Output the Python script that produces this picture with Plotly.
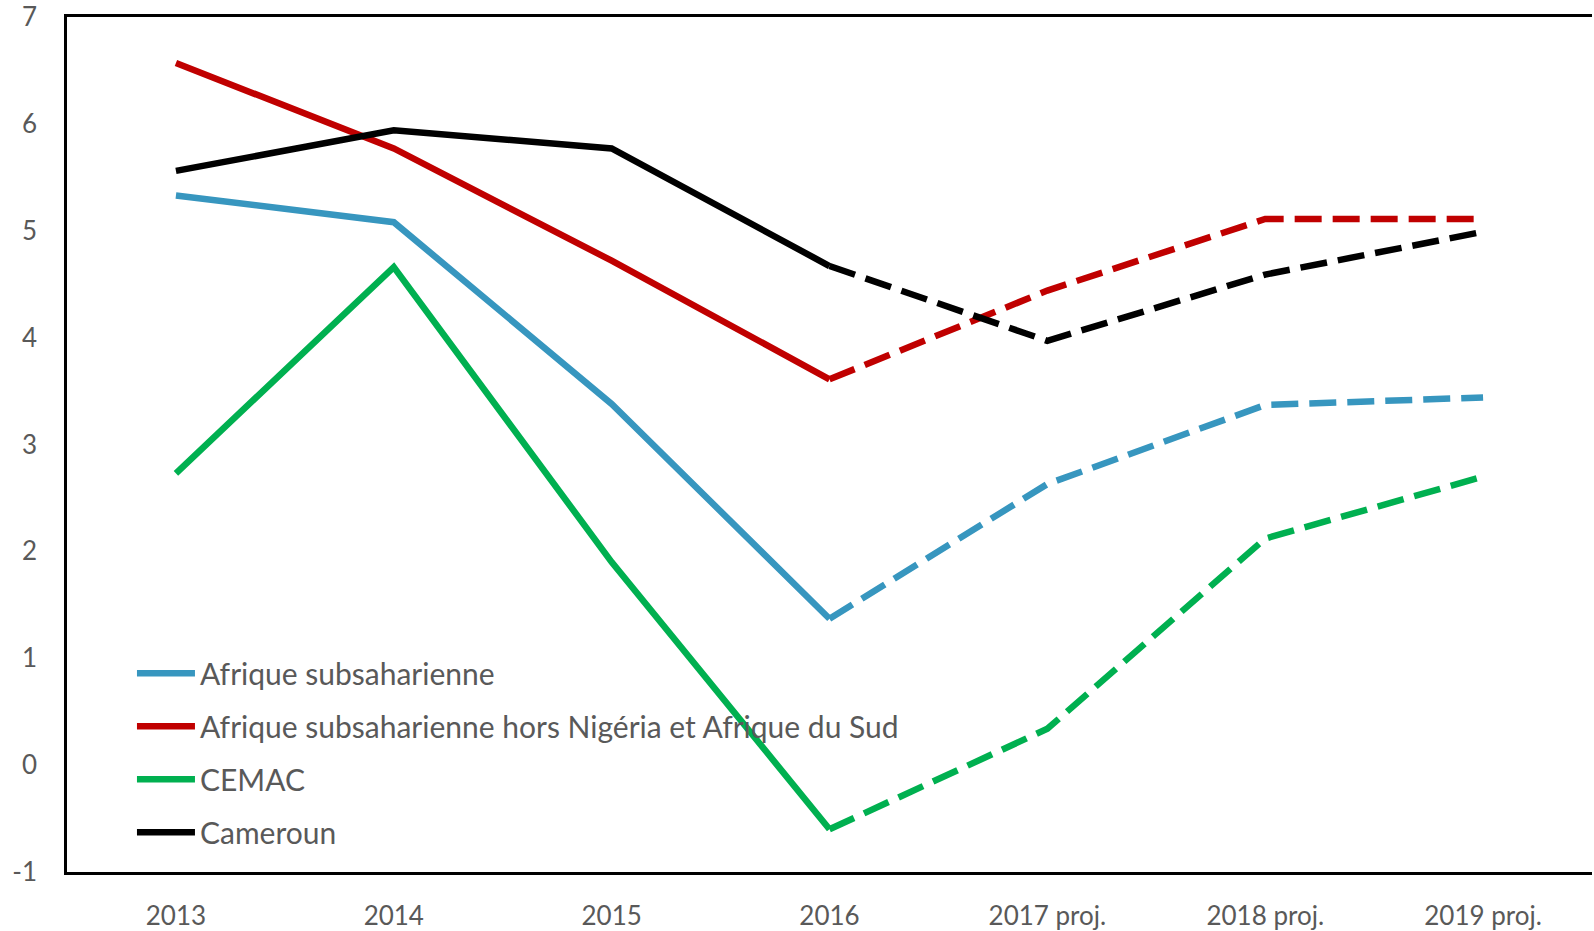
import plotly.graph_objects as go

years = ["2013", "2014", "2015", "2016", "2017 proj.", "2018 proj.", "2019 proj."]

afrique_ss = [5.33, 5.08, 3.38, 1.37, 2.63, 3.37, 3.44]
afrique_ss_hors = [6.57, 5.77, 4.72, 3.61, 4.44, 5.11, 5.11]
cemac = [2.73, 4.66, 1.90, -0.60, 0.34, 2.12, 2.70]
cameroun = [5.56, 5.94, 5.77, 4.67, 3.97, 4.59, 4.99]

y_ticks = [-1, 0, 1, 2, 3, 4, 5, 6, 7]
y_tick_labels = ["-1", "0", "1", "2", "3", "4", "5", "6", "7"]

series_names = ["Afrique subsaharienne",
                "Afrique subsaharienne hors Nigéria et Afrique du Sud",
                "CEMAC", "Cameroun"]
series_values = [afrique_ss, afrique_ss_hors, cemac, cameroun]
series_colors = ["#3796BF", "#C00000", "#00B050", "#000000"]

split = 3  # index of 2016, last actual year

fig = go.Figure()
for name, vals, col in zip(series_names, series_values, series_colors):
    fig.add_trace(go.Scatter(
        x=years[:split + 1], y=vals[:split + 1], mode="lines", name=name,
        line=dict(color=col, width=6.5), legendgroup=name, showlegend=True))
    fig.add_trace(go.Scatter(
        x=years[split:], y=vals[split:], mode="lines", name=name,
        line=dict(color=col, width=6.5, dash="27px,11px"), legendgroup=name,
        showlegend=False))

font_family = "Lato, 'Open Sans', sans-serif"
fig.update_layout(
    width=1594, height=931,
    margin=dict(l=67, r=2, t=17, b=59),
    paper_bgcolor="white", plot_bgcolor="white",
    font=dict(family=font_family, color="#595959", size=26),
    showlegend=True,
    legend=dict(x=0.0426, y=0.263, xanchor="left", yanchor="top",
                bgcolor="rgba(0,0,0,0)", font=dict(size=30, color="#595959"),
                tracegroupgap=11, itemwidth=58),
    xaxis=dict(type="category", categoryorder="array", categoryarray=years,
               showgrid=False, zeroline=False, showline=True, mirror=True,
               linecolor="black", linewidth=2.5, ticks="", automargin=False,
               ticklabelstandoff=19, tickfont=dict(size=26, color="#595959"),
               range=[-0.5, 6.5]),
    yaxis=dict(range=[-1, 7], tickmode="array", tickvals=y_ticks,
               ticktext=y_tick_labels, showgrid=False, automargin=False,
               zeroline=False, showline=True, linecolor="black",
               linewidth=2.5, ticks="", ticklabelstandoff=22,
               ticklabeloverflow="allow",
               tickfont=dict(size=26, color="#595959")),
)

fig.write_html("out.html", config={"displayModeBar": False},
               post_script="document.body.style.margin='0';"
                           "document.body.style.overflow='hidden';")
